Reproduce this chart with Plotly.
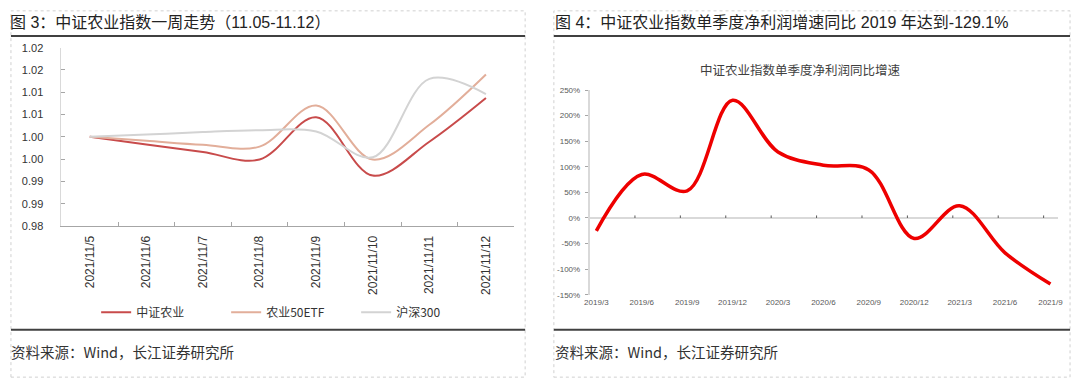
import plotly.graph_objects as go

W, H = 1080, 388

# ---- data: left chart (weekly index trend) ----
dates = ['2021/11/5', '2021/11/6', '2021/11/7', '2021/11/8',
         '2021/11/9', '2021/11/10', '2021/11/11', '2021/11/12']
csi_agri = [1.0000, 0.9983, 0.9966, 0.9949, 1.0044, 0.9913, 0.9989, 1.0087]
agri_etf = [1.0000, 0.9991, 0.9982, 0.9978, 1.0070, 0.9949, 1.0027, 1.0140]
hs300 = [1.0000, 1.0005, 1.0011, 1.0015, 1.0012, 0.9954, 1.0130, 1.0096]
left_tickvals = [0.98, 0.985, 0.99, 0.995, 1.00, 1.005, 1.01, 1.015, 1.02]
left_ticktext = ['0.98', '0.99', '0.99', '1.00', '1.00', '1.01', '1.01', '1.02', '1.02']

# ---- data: right chart (quarterly net profit growth yoy, %) ----
quarters = ['2019/3', '2019/6', '2019/9', '2019/12', '2020/3', '2020/6',
            '2020/9', '2020/12', '2021/3', '2021/6', '2021/9']
profit_growth = [-25, 85, 53, 230, 129, 103, 94, -40, 24, -68, -129.1]
right_tickvals = [-150, -100, -50, 0, 50, 100, 150, 200, 250]
right_ticktext = ['-150%', '-100%', '-50%', '0%', '50%', '100%', '150%', '200%', '250%']

FONT = "Liberation Sans, Arial, Noto Sans CJK SC, sans-serif"
CJK = "Noto Sans CJK SC, Liberation Sans, sans-serif"


def px(x):
    return x / W


def py(y):
    return 1 - y / H


fig = go.Figure()

fig.add_trace(go.Scatter(x=dates, y=csi_agri, name='中证农业', mode='lines',
                         line=dict(color='#C84B4B', width=2, shape='spline', smoothing=1.0),
                         xaxis='x', yaxis='y'))
fig.add_trace(go.Scatter(x=dates, y=agri_etf, name='农业50ETF', mode='lines',
                         line=dict(color='#E2AE9A', width=2, shape='spline', smoothing=1.0),
                         xaxis='x', yaxis='y'))
fig.add_trace(go.Scatter(x=dates, y=hs300, name='沪深300', mode='lines',
                         line=dict(color='#D3D3D3', width=2, shape='spline', smoothing=1.0),
                         xaxis='x', yaxis='y'))
fig.add_trace(go.Scatter(x=quarters, y=profit_growth, name='净利润同比增速', mode='lines',
                         line=dict(color='#EE0000', width=3.5, shape='spline', smoothing=1.0),
                         xaxis='x2', yaxis='y2', showlegend=False))

shapes = []
# panel borders (dashed)
for x0, x1 in [(6, 525), (554, 1075)]:
    shapes.append(dict(type='rect', xref='paper', yref='paper',
                       x0=px(x0), x1=px(x1), y0=py(383), y1=py(5),
                       line=dict(color='#D0D0D0', width=1, dash='dot')))
    # title underline and bottom line
    shapes.append(dict(type='line', xref='paper', yref='paper',
                       x0=px(x0), x1=px(x1), y0=py(31), y1=py(31),
                       line=dict(color='#404040', width=2)))
    shapes.append(dict(type='line', xref='paper', yref='paper',
                       x0=px(x0), x1=px(x1), y0=py(334), y1=py(334),
                       line=dict(color='#404040', width=2)))

# small tick marks on the right chart's zero line
for i in range(1, len(quarters)):
    shapes.append(dict(type='line', xref='x2', yref='y2',
                       x0=i - 0.15, x1=i - 0.15, y0=0, y1=5,
                       line=dict(color='#595959', width=1)))

annotations = [
    dict(text='图 3：中证农业指数一周走势（11.05-11.12）', x=px(3), y=py(17),
         xref='paper', yref='paper', xanchor='left', yanchor='middle', showarrow=False,
         font=dict(family=FONT, size=16, color='#222222')),
    dict(text='图 4：中证农业指数单季度净利润增速同比 2019 年达到-129.1%', x=px(553), y=py(17),
         xref='paper', yref='paper', xanchor='left', yanchor='middle', showarrow=False,
         font=dict(family=FONT, size=16, color='#222222')),
    dict(text='中证农业指数单季度净利润同比增速', x=px(803), y=py(66),
         xref='paper', yref='paper', xanchor='center', yanchor='middle', showarrow=False,
         font=dict(family=CJK, size=12.5, color='#404040')),
    dict(text='资料来源：Wind，长江证券研究所', x=px(4), y=py(357),
         xref='paper', yref='paper', xanchor='left', yanchor='middle', showarrow=False,
         font=dict(family=CJK, size=14.5, color='#333333')),
    dict(text='资料来源：Wind，长江证券研究所', x=px(553), y=py(357),
         xref='paper', yref='paper', xanchor='left', yanchor='middle', showarrow=False,
         font=dict(family=CJK, size=14.5, color='#333333')),
]

fig.update_layout(
    width=W, height=H,
    margin=dict(l=0, r=0, t=0, b=0),
    paper_bgcolor='white', plot_bgcolor='white',
    font=dict(family=FONT, color='#404040'),
    showlegend=True,
    legend=dict(orientation='h', x=px(92), y=py(316), xanchor='left', yanchor='middle',
                font=dict(family=CJK, size=12, color='#333333'),
                bgcolor='rgba(0,0,0,0)', itemwidth=30,
                entrywidth=85, entrywidthmode='pixels'),
    xaxis=dict(domain=[px(57), px(514)], anchor='y', type='category',
               range=[-0.5, len(dates) - 0.5],
               showline=True, linecolor='#A6A6A6', linewidth=1,
               ticks='inside', tickson='boundaries', ticklen=4, tickcolor='#A6A6A6',
               tickangle=-90, tickfont=dict(size=12, color='#333333'),
               showgrid=False, zeroline=False, ticklabelstandoff=4),
    yaxis=dict(domain=[py(227), py(43)], anchor='x', range=[0.98, 1.02],
               tickvals=left_tickvals, ticktext=left_ticktext,
               showline=True, linecolor='#D9D9D9', linewidth=1,
               ticks='inside', ticklen=4, tickcolor='#A6A6A6',
               tickfont=dict(size=11, color='#333333'),
               showgrid=False, zeroline=False, ticklabelstandoff=15),
    xaxis2=dict(domain=[px(590), px(1063)], anchor='y2', type='category',
                range=[-0.15, len(quarters) - 1 + 0.17],
                showline=False, ticks='', showgrid=False, zeroline=False,
                tickfont=dict(size=8, color='#595959'), ticklabelstandoff=1),
    yaxis2=dict(domain=[py(298), py(86.7)], anchor='x2', range=[-150, 250],
                tickvals=right_tickvals, ticktext=right_ticktext,
                showline=True, linecolor='#D9D9D9', linewidth=1.5,
                ticks='outside', ticklen=3, tickcolor='#A6A6A6',
                tickfont=dict(size=8, color='#595959'),
                showgrid=False, zeroline=True, zerolinecolor='#D9D9D9', zerolinewidth=1.5,
                ticklabelstandoff=3),
    shapes=shapes,
    annotations=annotations,
)

fig.write_html("out.html", config={'displayModeBar': False},
               post_script="document.body.style.margin='0';")
